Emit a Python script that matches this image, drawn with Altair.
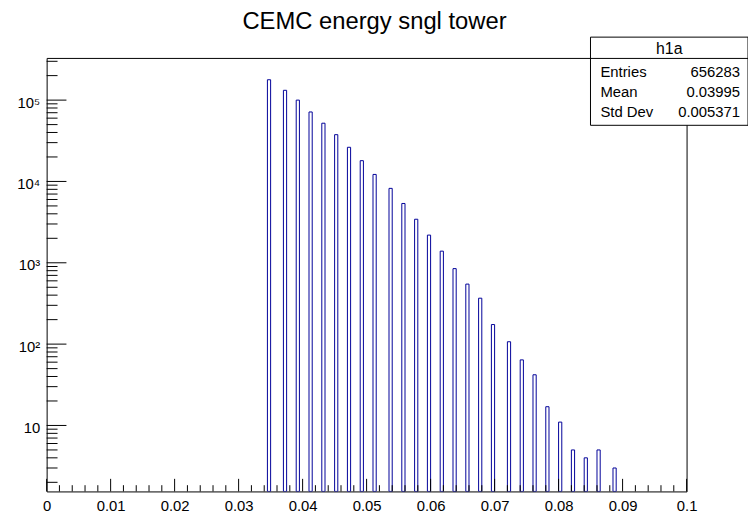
import altair as alt
import pandas as pd

# ---- data (200 bins over 0..0.1) ----
bin_lo = [0.0345, 0.0370, 0.0390, 0.0410, 0.0430, 0.0450, 0.0470, 0.0490, 0.0510,
          0.0535, 0.0555, 0.0575, 0.0595, 0.0615, 0.0635, 0.0655, 0.0675, 0.0695,
          0.0720, 0.0740, 0.0760, 0.0780, 0.0800, 0.0820, 0.0840, 0.0860, 0.0885]
counts = [178000, 132000, 100000, 71500, 52000, 37600, 26300, 18000, 12200,
          8220, 5360, 3430, 2190, 1390, 848, 547, 367, 174,
          107, 64, 42, 17, 11, 5, 4, 5, 3]
bin_width = 0.0005

title_text = "CEMC energy sngl tower"
stats_name = "h1a"
stats_labels = ["Entries", "Mean", "Std Dev"]
stats_values = ["656283", "0.03995", "0.005371"]

x_major = [0, 0.01, 0.02, 0.03, 0.04, 0.05, 0.06, 0.07, 0.08, 0.09, 0.1]
x_minor = [round(i * 0.002, 3) for i in range(51) if i % 5 != 0]
y_major = [10, 100, 1000, 10000, 100000]
y_minor = [m * 10 ** k for k in range(0, 6) for m in range(2, 10)
           if 1.545 <= m * 10 ** k <= 3.3e5]
sup = {10: "10", 100: "10²", 1000: "10³", 10000: "10⁴", 100000: "10⁵"}

W = 646
H = 437.6
FONT = "Liberation Sans"

hist = pd.DataFrame({"lo": bin_lo,
                     "hi": [v + bin_width for v in bin_lo],
                     "count": counts})

x_scale = alt.Scale(domain=[0, 0.1], nice=False, zero=False)
y_scale = alt.Scale(type="log", domain=[1.545, 3.3e5], nice=False)

label_expr = " : ".join(
    [f"datum.value == {k} ? '{v}'" for k, v in sup.items()]) + " : ''"

x_axis = alt.Axis(values=x_major, format="~g", title=None, ticks=False, domain=False,
                  grid=False, labelFont=FONT, labelFontSize=15, labelColor="black",
                  labelPadding=7, labelFlush=False)
y_axis = alt.Axis(values=y_major, labelExpr=label_expr, title=None, ticks=False,
                  domain=False, grid=False, labelFont=FONT, labelFontSize=15,
                  labelColor="black", labelPadding=7, labelFlush=False,
                  labelOffset=2)

X = lambda f: alt.X(f, scale=x_scale, axis=x_axis)
Y = lambda f: alt.Y(f, scale=y_scale, axis=y_axis)

bars = alt.Chart(hist).mark_rect(
    fillOpacity=0, stroke="#000099", strokeWidth=1, clip=True
).encode(x=X("lo:Q"), x2="hi:Q", y=Y("count:Q"), y2=alt.value(H))

def xticks(vals, length):
    return alt.Chart(pd.DataFrame({"v": vals})).mark_rule(
        color="black", strokeWidth=1
    ).encode(x=X("v:Q"), y=alt.value(H), y2=alt.value(H - length))

def yticks(vals, length):
    return alt.Chart(pd.DataFrame({"v": vals})).mark_rule(
        color="black", strokeWidth=1
    ).encode(y=Y("v:Q"), x=alt.value(0), x2=alt.value(length))

one = pd.DataFrame({"t": [title_text]})
title = alt.Chart(one).mark_text(
    font=FONT, fontSize=24, align="center", baseline="alphabetic", color="black"
).encode(text="t:N", x=alt.value(331), y=alt.value(-29))

box = alt.Chart(one).mark_rect(fill="white", stroke="black", strokeWidth=1).encode(
    x=alt.value(549), x2=alt.value(708), y=alt.value(-21), y2=alt.value(68))
sep = alt.Chart(one).mark_rule(color="black", strokeWidth=1).encode(
    x=alt.value(549), x2=alt.value(708), y=alt.value(0.5))
head = alt.Chart(pd.DataFrame({"t": [stats_name]})).mark_text(
    font=FONT, fontSize=16, align="center", baseline="alphabetic", color="black"
).encode(text="t:N", x=alt.value(628.5), y=alt.value(-4))

rows = []
row_y = [19.5, 39.5, 59.5]
for lab, val, yy in zip(stats_labels, stats_values, row_y):
    d = pd.DataFrame({"l": [lab], "v": [val]})
    rows.append(alt.Chart(d).mark_text(
        font=FONT, fontSize=15, align="left", baseline="alphabetic", color="black"
    ).encode(text="l:N", x=alt.value(559), y=alt.value(yy)))
    rows.append(alt.Chart(d).mark_text(
        font=FONT, fontSize=15, align="right", baseline="alphabetic", color="black"
    ).encode(text="v:N", x=alt.value(700), y=alt.value(yy)))

chart = alt.layer(
    bars,
    xticks(x_major, 12.7), xticks(x_minor, 6.3),
    yticks(y_major, 20), yticks(y_minor, 11),
    title, box, sep, head, *rows
).properties(
    width=W, height=H,
    autosize=alt.AutoSizeParams(type="none"),
    padding={"left": 39, "top": 48, "right": 62, "bottom": 24},
    background="white"
).configure_view(stroke="black", strokeWidth=1)

chart.save("out.html", embed_options={"renderer": "svg", "actions": False})
